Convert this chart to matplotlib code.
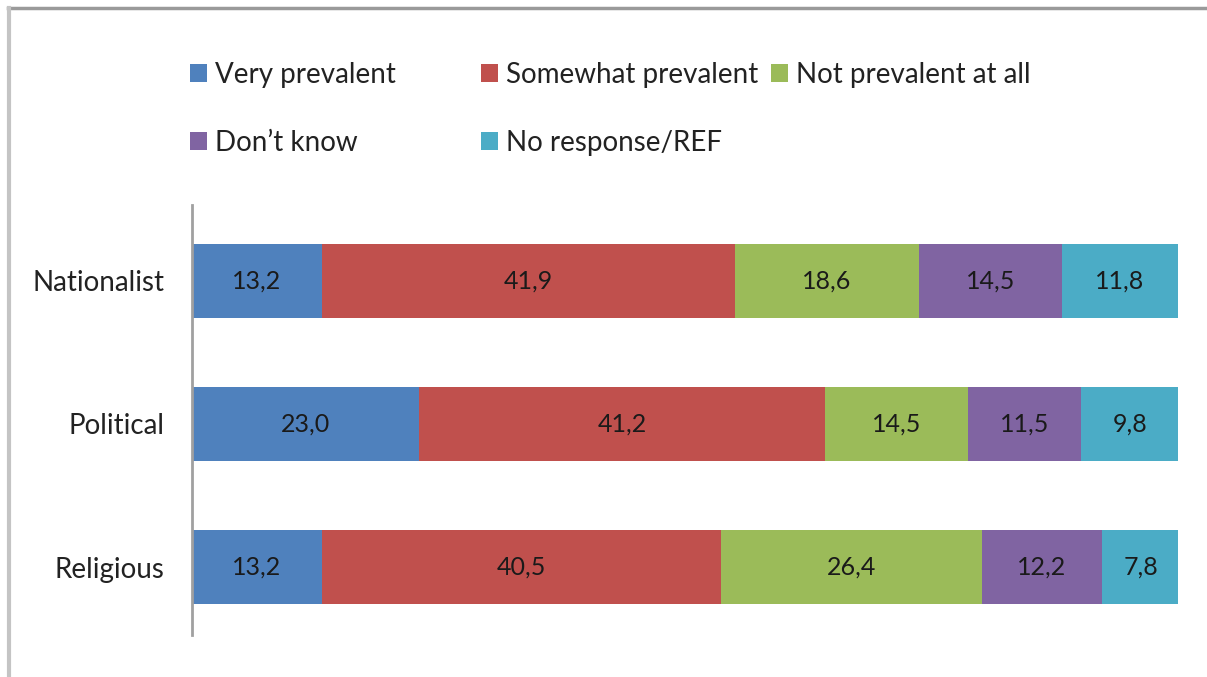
import matplotlib
matplotlib.use("Agg")
import matplotlib.pyplot as plt
from matplotlib.lines import Line2D

categories = ["Religious", "Political", "Nationalist"]
series_names = ["Very prevalent", "Somewhat prevalent", "Not prevalent at all",
                "Don\u2019t know", "No response/REF"]
very_prevalent = [13.2, 23.0, 13.2]
somewhat_prevalent = [40.5, 41.2, 41.9]
not_prevalent = [26.4, 14.5, 18.6]
dont_know = [12.2, 11.5, 14.5]
no_response = [7.8, 9.8, 11.8]

colors = ["#4F81BD", "#C0504D", "#9BBB59", "#8064A2", "#4BACC6"]

plt.rcParams['font.family'] = ['Lato', 'DejaVu Sans']

fig = plt.figure(figsize=(12.07, 6.77), dpi=100)
ax = fig.add_axes([192 / 1207, 42 / 677, 986 / 1207, 430 / 677])

series = [very_prevalent, somewhat_prevalent, not_prevalent, dont_know, no_response]
y = list(range(len(categories)))
left = [0.0] * len(categories)
handles = []
for name, values, color in zip(series_names, series, colors):
    bars = ax.barh(y, values, left=left, height=0.52, color=color, label=name)
    handles.append(bars)
    for yi, v, l in zip(y, values, left):
        ax.text(l + v / 2, yi, f"{v:.1f}".replace(".", ","), ha="center", va="center",
                fontsize=18, color="#1a1a1a")
    left = [l + v for l, v in zip(left, values)]

ax.set_xlim(0, 100)
ax.set_ylim(-0.475, 2.53)
ax.set_yticks(y)
ax.set_yticklabels(categories, fontsize=20, color="#222222")
ax.tick_params(axis="y", length=0, pad=20)
ax.set_xticks([])
for side in ["top", "right", "bottom"]:
    ax.spines[side].set_visible(False)
ax.spines["left"].set_color("#a0a0a0")
ax.spines["left"].set_linewidth(2)

# legend, laid out row-wise in three columns
columns = [[0, 3], [1, 4], [2]]
col_x = [190 / 1207, 481 / 1207, 771 / 1207]
for cx, idx in zip(col_x, columns):
    fig.legend([handles[i] for i in idx], [series_names[i] for i in idx],
               loc="upper left", bbox_to_anchor=(cx, 1 - 62 / 677),
               frameon=False, fontsize=20, handlelength=0.6, handleheight=0.6,
               handletextpad=0.3, labelspacing=1.5, borderpad=0, borderaxespad=0,
               labelcolor="#222222")

# chart border remnants
fig.add_artist(Line2D([8 / 1207, 1], [1 - 8 / 677, 1 - 8 / 677], color="#9a9a9a", lw=2.5))
fig.add_artist(Line2D([8.5 / 1207, 8.5 / 1207], [0, 1 - 8 / 677], color="#c4c4c4", lw=3))

fig.savefig("out.png", dpi=100)
